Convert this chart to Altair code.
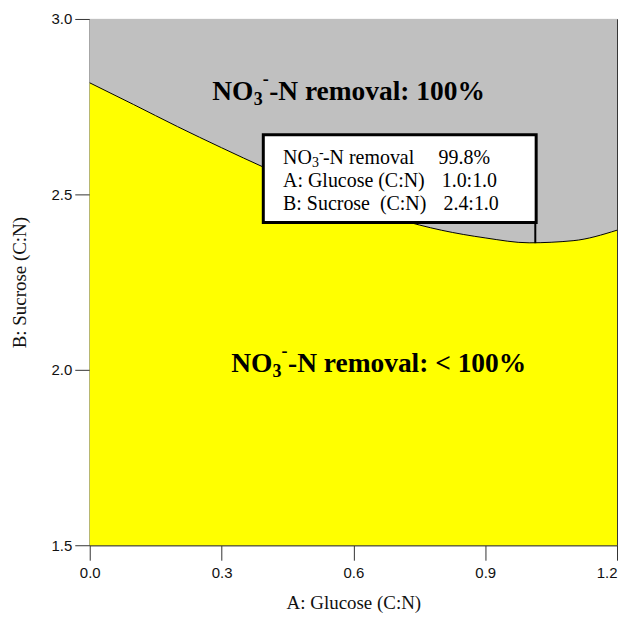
import altair as alt
import pandas as pd

# Boundary curve (NO3-N removal = 100% contour)
glucose = [0.0, 0.1, 0.2, 0.3, 0.4, 0.5, 0.6, 0.7, 0.8, 0.9, 1.0, 1.1, 1.2]
sucrose = [2.818, 2.756, 2.693, 2.633, 2.575, 2.520, 2.471, 2.430, 2.398, 2.376, 2.362, 2.368, 2.398]

x_ticks = [0.0, 0.3, 0.6, 0.9, 1.2]
y_ticks = [1.5, 2.0, 2.5, 3.0]

# Region labels (bold): "NO" + subscript "3" + superscript "-" + tail
region_x = [0.279, 0.322]
region_y = [2.770, 1.994]
region_tail = ["-N removal: 100%", "-N removal: < 100%"]

# Annotation box
box_x = [0.395]
box_x2 = [1.016]
box_y = [2.670]
box_y2 = [2.420]
optimum_x = [1.014]
optimum_y = [2.361]

box_first_x = [0.440]
box_first_y = [2.588]
box_first_tail = ["-N removal"]
box_left_x = [0.440, 0.440]
box_left_y = [2.520, 2.455]
box_left_text = ["A: Glucose (C:N)", "B: Sucrose\u00a0\u00a0(C:N)"]
box_right_x = [0.794, 0.801, 0.805]
box_right_y = [2.588, 2.520, 2.455]
box_right_text = ["99.8%", "1.0:1.0", "2.4:1.0"]

curve = pd.DataFrame({"x": glucose, "y": sucrose,
                      "top": [3.0] * len(glucose), "bottom": [1.5] * len(glucose)})
reg = pd.DataFrame({"x": region_x, "y": region_y, "tail": region_tail})
first = pd.DataFrame({"x": box_first_x, "y": box_first_y, "tail": box_first_tail})
left = pd.DataFrame({"x": box_left_x, "y": box_left_y, "text": box_left_text})
right = pd.DataFrame({"x": box_right_x, "y": box_right_y, "text": box_right_text})
box = pd.DataFrame({"x": box_x, "x2": box_x2, "y": box_y, "y2": box_y2})
ptr = pd.DataFrame({"x": optimum_x, "y": box_y2, "y2": optimum_y})

xs = alt.Scale(domain=[0, 1.2], nice=False, zero=False)
ys = alt.Scale(domain=[1.5, 3.0], nice=False, zero=False)

xax = alt.Axis(values=x_ticks, format=".1f", title="A: Glucose (C:N)", grid=False,
               tickSize=15, tickColor="#333", domainColor="#333", labelPadding=5,
               labelFlush=False, labelOverlap=False,
               labelAlign={"condition": {"test": "datum.value > 1.1", "value": "right"},
                           "value": "center"},
               labelFont="Liberation Sans", labelFontSize=15, labelColor="#111",
               titleFont="Liberation Serif", titleFontSize=19, titleFontWeight="normal",
               titleColor="#111", titlePadding=13)
yax = alt.Axis(values=y_ticks, format=".1f", title="B: Sucrose (C:N)", grid=False,
               tickSize=15, tickColor="#333", domainColor="#333", labelPadding=3,
               labelFlush=False, labelOverlap=False,
               labelFont="Liberation Sans", labelFontSize=15, labelColor="#111",
               titleFont="Liberation Serif", titleFontSize=19, titleFontWeight="normal",
               titleColor="#111", titlePadding=22)


def X(f):
    return alt.X(f, type="quantitative", scale=xs, axis=xax)


def Y(f):
    return alt.Y(f, type="quantitative", scale=ys, axis=yax)


def txt(df, field, size, dx=0, dy=0, bold=False, const=None):
    kw = dict(font="Liberation Serif", fontSize=size, fontWeight="bold" if bold else "normal",
              color="#000", align="left", baseline="alphabetic", dx=dx, dy=dy)
    enc = dict(x=X("x"), y=Y("y"))
    if const is not None:
        enc["text"] = alt.value(const)
    else:
        enc["text"] = alt.Text(field, type="nominal")
    return alt.Chart(df).mark_text(**kw).encode(**enc)


gray = alt.Chart(curve).mark_area(color="#c0c0c0", interpolate="monotone", opacity=1).encode(
    x=X("x"), y=Y("y"), y2="top")
yellow = alt.Chart(curve).mark_area(color="#ffff00", interpolate="monotone", opacity=1).encode(
    x=X("x"), y=Y("y"), y2="bottom")
line = alt.Chart(curve).mark_line(color="#000", strokeWidth=1, interpolate="monotone").encode(
    x=X("x"), y=Y("y"))

# bold region labels
r_no = txt(reg, None, 27.5, bold=True, const="NO")
r_sub = txt(reg, None, 18, dx=41.5, dy=5, bold=True, const="3")
r_sup = txt(reg, None, 18, dx=50.5, dy=-15, bold=True, const="-")
r_tail = txt(reg, "tail", 27.5, dx=57, bold=True)

rect = alt.Chart(box).mark_rect(fill="white", stroke="#000", strokeWidth=3).encode(
    x=X("x"), x2="x2", y=Y("y"), y2="y2")
pointer = alt.Chart(ptr).mark_rule(color="#000", strokeWidth=2).encode(
    x=X("x"), y=Y("y"), y2="y2")

b_no = txt(first, None, 20, const="NO")
b_sub = txt(first, None, 14, dx=29, dy=4, const="3")
b_sup = txt(first, None, 14, dx=36, dy=-7, const="-")
b_tail = txt(first, "tail", 20, dx=40)
b_left = txt(left, "text", 20)
b_right = txt(right, "text", 20)

chart = alt.layer(gray, yellow, line, r_no, r_sub, r_sup, r_tail, pointer, rect,
                  b_no, b_sub, b_sup, b_tail, b_left, b_right).properties(
    width=529, height=528,
    autosize=alt.AutoSizeParams(type="none"),
    padding={"left": 82, "top": 10, "right": 5, "bottom": 72},
    background="white",
).configure_view(stroke="#333", strokeWidth=1)

chart.save("out.html", embed_options={"renderer": "svg", "actions": False})
